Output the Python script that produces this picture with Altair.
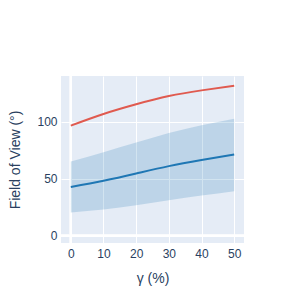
import altair as alt
import pandas as pd

gamma = [0, 10, 20, 30, 40, 50]
fov_red = [96.5, 106.7, 115.2, 122.4, 127.4, 131.5]
fov_blue = [42.6, 48.1, 54.5, 61.0, 66.3, 71.1]
band_low = [20.4, 22.9, 26.6, 31.0, 35.2, 39.0]
band_high = [65.0, 73.2, 81.6, 90.0, 96.8, 102.6]

df = pd.DataFrame({"g": gamma, "red": fov_red, "blue": fov_blue,
                   "lo": band_low, "hi": band_high})

FONT = "Liberation Sans"
TXT = "#2a3f5f"
xs = alt.Scale(domain=[-3, 53], nice=False, zero=False)
ys = alt.Scale(domain=[-6.4, 140], nice=False, zero=False)

xax = alt.Axis(values=[0, 10, 20, 30, 40, 50], title="γ (%)", grid=True,
               gridColor="white", gridWidth=1, domain=False, ticks=False,
               labelOverlap=False, labelFlush=False,
               labelColor=TXT, labelFont=FONT, labelFontSize=12, labelPadding=5,
               titleColor=TXT, titleFont=FONT, titleFontSize=14,
               titleFontWeight="normal", titlePadding=12)
yax = alt.Axis(values=[0, 50, 100], title="Field of View (°)", grid=True,
               gridColor="white", gridWidth=1, domain=False, ticks=False,
               labelOverlap=False, labelFlush=False,
               labelColor=TXT, labelFont=FONT, labelFontSize=12, labelPadding=4,
               titleColor=TXT, titleFont=FONT, titleFontSize=14,
               titleFontWeight="normal", titlePadding=14)

base = alt.Chart(df)

band = base.mark_area(color="#1f77b4", opacity=0.2, interpolate="natural").encode(
    x=alt.X("g:Q", scale=xs, axis=xax),
    y=alt.Y("lo:Q", scale=ys, axis=yax),
    y2="hi:Q",
)
zero_y = base.mark_rule(color="white", strokeWidth=2).encode(
    y=alt.Y(datum=0, scale=ys, axis=yax)
)
zero_x = base.mark_rule(color="white", strokeWidth=2).encode(
    x=alt.X(datum=0, scale=xs, axis=xax)
)
red = base.mark_line(color="#e05a4f", strokeWidth=2, interpolate="natural").encode(
    x=alt.X("g:Q", scale=xs, axis=xax), y=alt.Y("red:Q", scale=ys, axis=yax)
)
blue = base.mark_line(color="#1f77b4", strokeWidth=2, interpolate="natural").encode(
    x=alt.X("g:Q", scale=xs, axis=xax), y=alt.Y("blue:Q", scale=ys, axis=yax)
)

chart = alt.layer(zero_y, zero_x, band, red, blue).properties(
    width=183, height=167,
    autosize=alt.AutoSizeParams(type="none"),
    padding={"left": 53, "top": 68, "right": 50, "bottom": 50},
    background="white",
).configure_view(fill="#E5ECF6", stroke=None)

chart.save("out.html", embed_options={"renderer": "svg", "actions": False})
